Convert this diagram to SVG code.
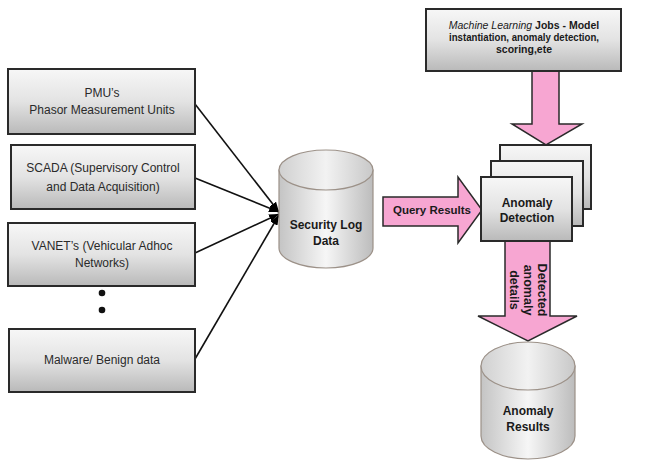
<svg xmlns="http://www.w3.org/2000/svg" width="662" height="460" viewBox="0 0 662 460">
<defs>
<linearGradient id="boxg" x1="0" y1="0" x2="0" y2="1">
<stop offset="0" stop-color="#f7f7f7"/>
<stop offset="0.5" stop-color="#e3e3e3"/>
<stop offset="1" stop-color="#b9b9b9"/>
</linearGradient>
<linearGradient id="cylg" x1="0" y1="0" x2="1" y2="0">
<stop offset="0" stop-color="#c4c4c4"/>
<stop offset="0.5" stop-color="#f6f6f6"/>
<stop offset="1" stop-color="#bcbcbc"/>
</linearGradient>
<linearGradient id="topg" x1="0" y1="0" x2="1" y2="0">
<stop offset="0" stop-color="#d0d0d0"/>
<stop offset="0.5" stop-color="#f2f2f2"/>
<stop offset="1" stop-color="#c8c8c8"/>
</linearGradient>
<marker id="ah" markerWidth="10" markerHeight="8" refX="10" refY="4" orient="auto" markerUnits="userSpaceOnUse">
<path d="M0,0 L10,4 L0,8 Z" fill="#000"/>
</marker>
</defs>
<style>
.box{fill:url(#boxg);stroke:#2a2a2a;stroke-width:2}
.cyl{fill:url(#cylg);stroke:#9c9188;stroke-width:1.2}
.cyltop{fill:url(#topg);stroke:#9c9188;stroke-width:1.2}
.pink{fill:#f7a6d2;stroke:#2a2a2a;stroke-width:1.5}
.t{font-family:"Liberation Sans",Arial,sans-serif;font-size:12px;fill:#2a2a2a;text-anchor:middle}
.b{font-family:"Liberation Sans",Arial,sans-serif;font-size:12px;font-weight:bold;fill:#1a1a1a;text-anchor:middle}
.con{stroke:#111;stroke-width:1.6;fill:none;marker-end:url(#ah)}
</style>
<rect width="662" height="460" fill="#fff"/>

<g id="connectors">
<line class="con" x1="195" y1="104" x2="279" y2="212"/>
<line class="con" x1="195" y1="178" x2="279" y2="212"/>
<line class="con" x1="195" y1="253" x2="279" y2="214"/>
<line class="con" x1="195" y1="359" x2="279" y2="215"/>
<g id="ml-arrow">
<path class="pink" d="M532,71 L559,71 L559,124 L582,124 L546,145 L512,124 L532,124 Z"/>
</g>
<g id="query-arrow">
<path class="pink" d="M383,197 L458,197 L458,177 L482,210 L458,243 L458,226 L383,226 Z"/>
<text class="b" x="432" y="214" style="font-size:11.5px">Query Results</text>
</g>
<g id="detected-arrow">
<path class="pink" d="M505,241 L550,241 L550,316 L577,316 L528,341 L478,316 L505,316 Z"/>
<g transform="translate(528,290) rotate(90)">
<text class="b" x="0" y="-10" style="font-size:12.5px">Detected</text>
<text class="b" x="0" y="4" style="font-size:12.5px">anomaly</text>
<text class="b" x="0" y="18" style="font-size:12.5px">details</text>
</g>
</g>
</g>

<g id="pmu">
<rect class="box" x="8" y="69" width="187" height="65"/>
<text class="t" x="102" y="97">PMU’s</text>
<text class="t" x="102" y="114">Phasor Measurement Units</text>
</g>
<g id="scada">
<rect class="box" x="11" y="145" width="184" height="64"/>
<text class="t" x="103" y="172">SCADA (Supervisory Control</text>
<text class="t" x="103" y="191">and Data Acquisition)</text>
</g>
<g id="vanet">
<rect class="box" x="8" y="223" width="187" height="63"/>
<text class="t" x="102" y="250">VANET’s (Vehicular Adhoc</text>
<text class="t" x="102" y="267">Networks)</text>
</g>
<g id="dots">
<circle cx="102" cy="293" r="3.3" fill="#111"/>
<circle cx="102" cy="310" r="3.3" fill="#111"/>
</g>
<g id="malware">
<rect class="box" x="9" y="329" width="186" height="63"/>
<text class="t" x="102" y="364">Malware/ Benign data</text>
</g>

<g id="security-log">
<path class="cyl" d="M279,170 L279,248 A47,20 0 0 0 373,248 L373,170 Z"/>
<ellipse class="cyltop" cx="326" cy="170" rx="47" ry="20"/>
<text class="b" x="326" y="229">Security Log</text>
<text class="b" x="326" y="245">Data</text>
</g>

<g id="ml-jobs">
<rect class="box" x="426" y="9" width="195" height="62"/>
<text class="b" x="524" y="29" style="font-size:10.5px"><tspan font-style="italic" font-weight="normal">Machine Learning</tspan> Jobs - Model</text>
<text class="b" x="524" y="41" style="font-size:10.5px" textLength="150" lengthAdjust="spacingAndGlyphs">instantiation, anomaly detection,</text>
<text class="b" x="524" y="53" style="font-size:10.5px">scoring,ete</text>
</g>

<g id="anomaly-detection">
<rect class="box" x="500" y="145" width="91" height="64"/>
<rect class="box" x="491" y="161" width="92" height="65"/>
<rect class="box" x="481" y="177" width="91" height="64"/>
<text class="b" x="527" y="207">Anomaly</text>
<text class="b" x="527" y="222">Detection</text>
</g>

<g id="anomaly-results">
<path class="cyl" d="M481,366 L481,436 A47,23 0 0 0 575,436 L575,366 Z"/>
<ellipse class="cyltop" cx="528" cy="366" rx="47" ry="24"/>
<text class="b" x="528" y="415">Anomaly</text>
<text class="b" x="528" y="431">Results</text>
</g>
</svg>
